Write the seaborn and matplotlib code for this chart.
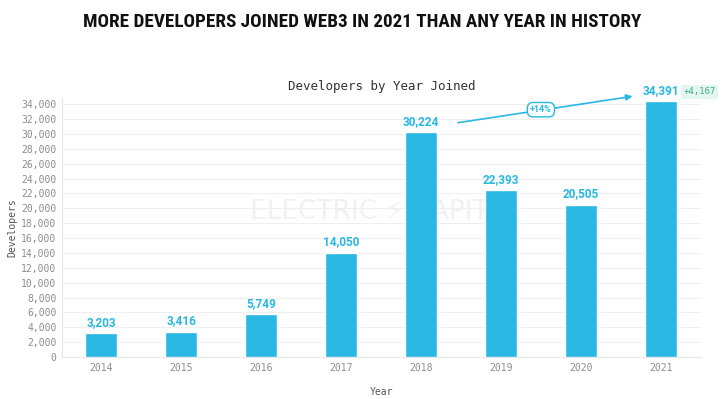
import matplotlib
matplotlib.use("Agg")
import matplotlib.pyplot as plt
from matplotlib import font_manager
import seaborn as sns
import pandas as pd

# Data
years = ["2014", "2015", "2016", "2017", "2018", "2019", "2020", "2021"]
developers = [3203, 3416, 5749, 14050, 30224, 22393, 20505, 34391]
y_ticks = list(range(0, 34001, 2000))
growth_label = "+14%"
growth_abs = "+4,167"

bar_color = "#29b8e3"
grid_color = "#efefef"
tick_color = "#8c8c8c"

sns.set_style("white")
plt.rcParams["font.family"] = ["DejaVu Sans"]

# pick a condensed face for the headline if one is installed
names = {f.name for f in font_manager.fontManager.ttflist}
head_font = "Roboto"
for cand in ["Roboto Condensed", "Open Sans Condensed", "Liberation Sans Narrow",
             "DejaVu Sans Condensed"]:
    if cand in names:
        head_font = cand
        break

df = pd.DataFrame({"Year": years, "Developers": developers})

fig = plt.figure(figsize=(7.24, 3.99), dpi=100)
ax = fig.add_axes([0.0856, 0.105, 0.8824, 0.649])

sns.barplot(data=df, x="Year", y="Developers", color=bar_color, width=0.4,
            saturation=1, ax=ax, zorder=3)

ax.set_xlim(-0.49, 7.5)
ax.set_ylim(0, 34800)
ax.set_yticks(y_ticks)
ax.set_yticklabels([f"{t:,}" for t in y_ticks], family="DejaVu Sans Mono",
                   fontsize=7, color=tick_color)
ax.set_xticks(range(len(years)))
ax.set_xticklabels(years, family="DejaVu Sans Mono", fontsize=7, color=tick_color)
ax.tick_params(axis="both", length=0, pad=4)
ax.grid(axis="y", color=grid_color, linewidth=0.8, zorder=0)
for s in ["top", "right"]:
    ax.spines[s].set_visible(False)
ax.spines["left"].set_color("#e6e6e6")
ax.spines["bottom"].set_color("#e6e6e6")

ax.set_xlabel("Year", family="DejaVu Sans Mono", fontsize=7, color="#555555", labelpad=10)
ax.set_ylabel("Developers", family="DejaVu Sans Mono", fontsize=7, color="#555555", labelpad=3)

# value labels above the bars
for c in ax.containers:
    ax.bar_label(c, labels=[f"{v:,}" for v in developers], padding=3,
                 fontsize=8.5, fontweight="bold", color=bar_color, family="Roboto")

# growth arrow 2018 -> 2021
ax.annotate("", xy=(6.68, 35100), xytext=(4.43, 31450),
            arrowprops=dict(arrowstyle="-|>", color=bar_color, lw=1.2, mutation_scale=9),
            annotation_clip=False, zorder=5)
ax.text(5.5, 33250, growth_label, ha="center", va="center", fontsize=6.5,
        fontweight="bold", color=bar_color, zorder=6, family="Roboto",
        bbox=dict(boxstyle="round,pad=0.3,rounding_size=0.65", fc="white", ec=bar_color, lw=1))
ax.text(7.48, 35650, growth_abs, ha="center", va="center", fontsize=6.5,
        color="#3aae84", family="DejaVu Sans Mono", clip_on=False,
        bbox=dict(boxstyle="square,pad=0.25", fc="#e3f6ef", ec="none"))

# watermark
ax.text(3.55, 19500, "ELECTRIC \u26a1 CAPITAL", ha="center", va="center",
        fontsize=19, color="#f1f1f1", zorder=1, family="DejaVu Sans")

ax.set_title("Developers by Year Joined", family="DejaVu Sans Mono", fontsize=9,
             color="#333333", pad=6)

head = fig.text(0.5, 0.945, "MORE DEVELOPERS JOINED WEB3 IN 2021 THAN ANY YEAR IN HISTORY",
                ha="center", va="center", fontsize=19, fontweight="heavy",
                family=head_font, color="#111111")
# shrink the headline until it spans about the same width as in the original
renderer = fig.canvas.get_renderer()
w = head.get_window_extent(renderer).width
if w > 557:
    head.set_fontsize(19 * 557 / w)

fig.savefig("out.png", dpi=100)
